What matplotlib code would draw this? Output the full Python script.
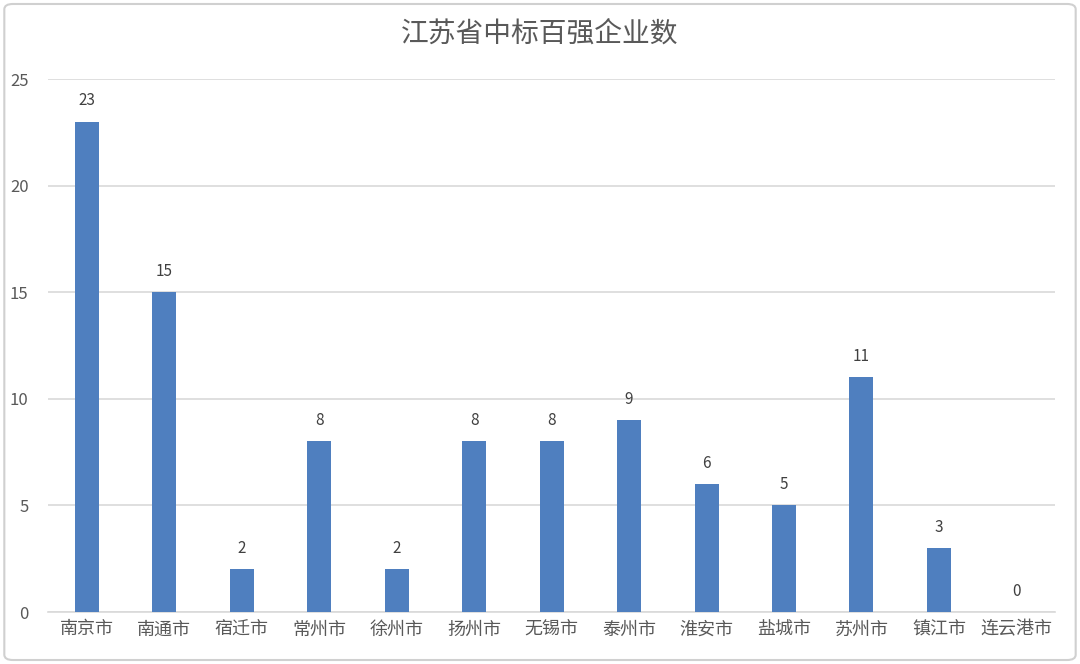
import matplotlib
matplotlib.use("Agg")
import matplotlib.pyplot as plt
from matplotlib.patches import FancyBboxPatch

plt.rcParams['font.family'] = ['Noto Sans CJK SC', 'DejaVu Sans']

# 江苏省各市中标百强企业数
cities = ["南京市", "南通市", "宿迁市", "常州市", "徐州市", "扬州市", "无锡市",
          "泰州市", "淮安市", "盐城市", "苏州市", "镇江市", "连云港市"]
counts = [23, 15, 2, 8, 2, 8, 8, 9, 6, 5, 11, 3, 0]
yticks = [0, 5, 10, 15, 20, 25]

BAR_COL = "#4f7fbf"
TXT_COL = "#595959"
GRID_COL = "#d9d9d9"

fig = plt.figure(figsize=(10.8, 6.64), dpi=100)
ax = fig.add_axes([0.0444, 0.0783, 0.9326, 0.8027])

x = range(len(cities))
bars = ax.bar(x, counts, width=0.31, color=BAR_COL, zorder=3)
for b, v in zip(bars, counts):
    ax.annotate(str(v), (b.get_x() + b.get_width() / 2, v), xytext=(0, 9),
                textcoords="offset points", ha="center", va="bottom",
                fontsize=11, color="#404040")

ax.set_xlim(-0.5, len(cities) - 0.5)
ax.set_ylim(0, 25)
ax.set_yticks(yticks)
ax.set_xticks(list(x))
ax.set_xticklabels(cities, fontsize=13, color=TXT_COL)
ax.tick_params(axis="y", labelsize=12, labelcolor=TXT_COL, length=0, pad=14)
ax.tick_params(axis="x", length=0, pad=6)
ax.yaxis.grid(True, color=GRID_COL, lw=1.2, zorder=0)
for s in ["top", "right", "left"]:
    ax.spines[s].set_visible(False)
ax.spines["bottom"].set_color(GRID_COL)
ax.spines["bottom"].set_linewidth(1.2)

fig.text(0.5, 0.95, "江苏省中标百强企业数", ha="center", va="center",
         fontsize=20, color=TXT_COL)

# cornice grigia arrotondata attorno al grafico
frame = FancyBboxPatch((0.004, 0.006), 0.992, 0.988, boxstyle="round,pad=0,rounding_size=0.008",
                       transform=fig.transFigure, fill=False, ec="#d0d0d0", lw=1.5)
fig.patches.append(frame)

fig.savefig("out.png", dpi=100)
